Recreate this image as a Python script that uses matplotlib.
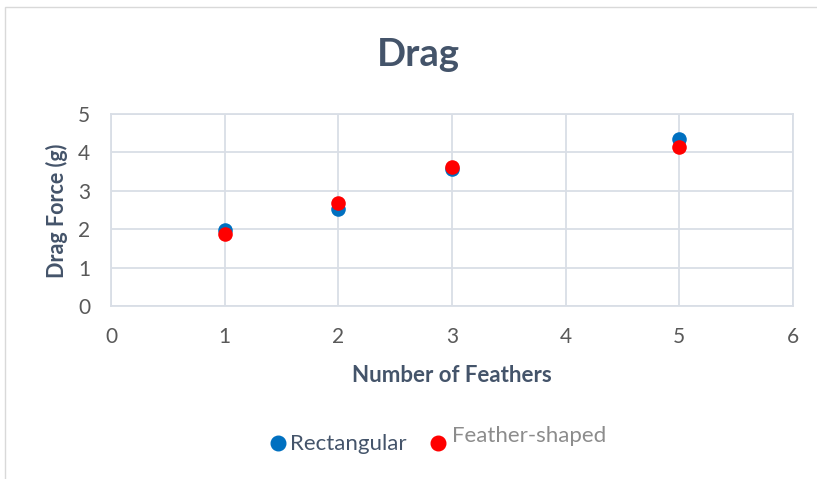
import matplotlib
matplotlib.use("Agg")
import matplotlib.pyplot as plt
from matplotlib.patches import Rectangle
from matplotlib.lines import Line2D

plt.rcParams['font.family'] = ['Lato', 'DejaVu Sans']

feathers = [1, 2, 3, 5]
rectangular = [1.99, 2.52, 3.57, 4.35]
feather_shaped = [1.87, 2.69, 3.63, 4.15]
series_names = ["Rectangular", "Feather-shaped"]
x_ticks = [0, 1, 2, 3, 4, 5, 6]
y_ticks = [0, 1, 2, 3, 4, 5]

W, H = 817, 479
fig = plt.figure(figsize=(W / 100, H / 100), dpi=100)

# chart-area frame
fig.patches.append(Rectangle((5 / W, -0.05), 1.0, 1 - 7 / H + 0.05,
                             transform=fig.transFigure, fill=False,
                             edgecolor="#D9D9D9", linewidth=1.0))

ax = fig.add_axes([111 / W, 1 - 306 / H, (793 - 111) / W, (306 - 114) / H])
grid_c = "#D9DEE6"
ax.set_xlim(0, 6)
ax.set_ylim(0, 5)
ax.set_xticks(x_ticks)
ax.set_yticks(y_ticks)
ax.grid(True, color=grid_c, linewidth=1.3)
ax.set_axisbelow(True)
for s in ax.spines.values():
    s.set_color(grid_c)
    s.set_linewidth(1.3)
ax.tick_params(length=0, labelsize=15, colors="#595959")
ax.tick_params(axis="x", pad=15)
ax.tick_params(axis="y", pad=15)

blue = "#0070C0"
red = "#FF0000"
ax.scatter(feathers, rectangular, s=110, color=blue, zorder=3, linewidths=0)
ax.scatter(feathers, feather_shaped, s=110, color=red, zorder=4, linewidths=0)

text_c = "#44546A"
fig.text(418 / W, 1 - 55 / H, "Drag", ha="center", va="center",
         fontsize=27.5, fontweight="bold", color=text_c)
fig.text(452 / W, 1 - 376 / H, "Number of Feathers", ha="center", va="center",
         fontsize=16, fontweight="bold", color=text_c)
fig.text(57 / W, 1 - 211 / H, "Drag Force (g)", ha="center", va="center",
         rotation=90, fontsize=15.5, fontweight="bold", color=text_c)

# legend
fig.add_artist(Line2D([278 / W], [1 - 443 / H], marker="o", markersize=10.5,
                      color=blue, transform=fig.transFigure, linestyle="none"))
fig.text(290 / W, 1 - 444 / H, series_names[0], ha="left", va="center",
         fontsize=16, color=text_c)
fig.text(452 / W, 1 - 436 / H, series_names[1], ha="left", va="center",
         fontsize=16, color="#8C8C8C")
fig.add_artist(Line2D([438 / W], [1 - 443 / H], marker="o", markersize=10.5,
                      color=red, transform=fig.transFigure, linestyle="none"))

fig.savefig("out.png", dpi=100)
